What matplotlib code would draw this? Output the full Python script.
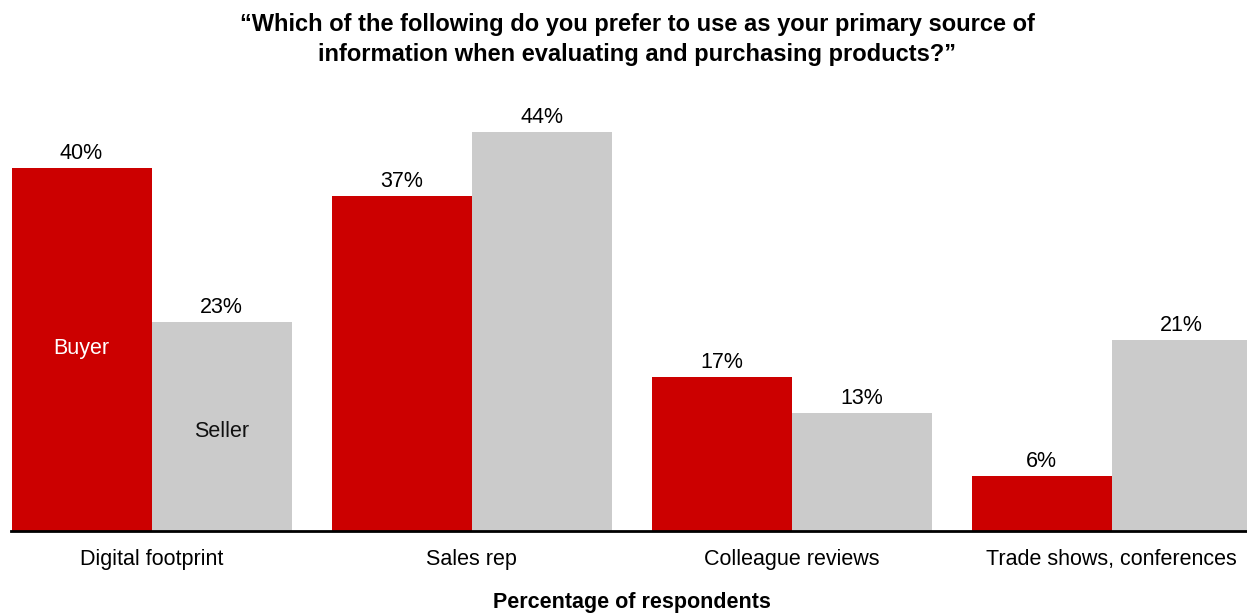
import numpy as np
import matplotlib
matplotlib.use('Agg')
import matplotlib.pyplot as plt

categories = ['Digital footprint', 'Sales rep', 'Colleague reviews', 'Trade shows, conferences']
buyer = [40, 37, 17, 6]
seller = [23, 44, 13, 21]

red = '#CC0000'
grey = '#CBCBCB'

plt.rcParams['font.family'] = ['Liberation Sans', 'DejaVu Sans']

W, H = 1247, 615
fig = plt.figure(figsize=(W / 100, H / 100), dpi=100)

# axes placed in pixel terms
base_px = 530.5
top_px = 530.5 - 9.05 * 50
ax = fig.add_axes([11 / W, (H - base_px) / H, 1236 / W, (base_px - top_px) / H])

x = np.arange(len(categories))
bw = 140 / 320
ax.bar(x - bw / 2, buyer, bw, color=red, linewidth=0)
ax.bar(x + bw / 2, seller, bw, color=grey, linewidth=0)

ax.set_xlim(-140.5 / 320, 3 + 135.5 / 320)
ax.set_ylim(0, 50)

fs = 15.5
for i in range(len(categories)):
    ax.text(x[i] - bw / 2, buyer[i] + 0.45, f'{buyer[i]}%', ha='center', va='bottom', fontsize=fs)
    ax.text(x[i] + bw / 2, seller[i] + 0.45, f'{seller[i]}%', ha='center', va='bottom', fontsize=fs)

ax.text(x[0] - bw / 2, 20.1, 'Buyer', color='white', ha='center', va='center', fontsize=fs)
ax.text(x[0] + bw / 2, 10.9, 'Seller', color='#111111', ha='center', va='center', fontsize=fs)

for s in ['top', 'right', 'left']:
    ax.spines[s].set_visible(False)
ax.spines['bottom'].set_linewidth(2)
ax.spines['bottom'].set_color('black')
ax.set_yticks([])
ax.set_xticks(x)
ax.set_xticklabels(categories, fontsize=fs)
ax.tick_params(axis='x', length=0, pad=13)

fig.text(632 / W, (H - 602.5) / H, 'Percentage of respondents', ha='center', va='center',
         fontsize=fs, fontweight='bold')

fig.text(637 / W, (H - 39.5) / H,
         '\u201cWhich of the following do you prefer to use as your primary source of\n'
         'information when evaluating and purchasing products?\u201d',
         ha='center', va='center', fontsize=17, fontweight='bold', linespacing=1.4)

fig.savefig('out.png', dpi=100)
